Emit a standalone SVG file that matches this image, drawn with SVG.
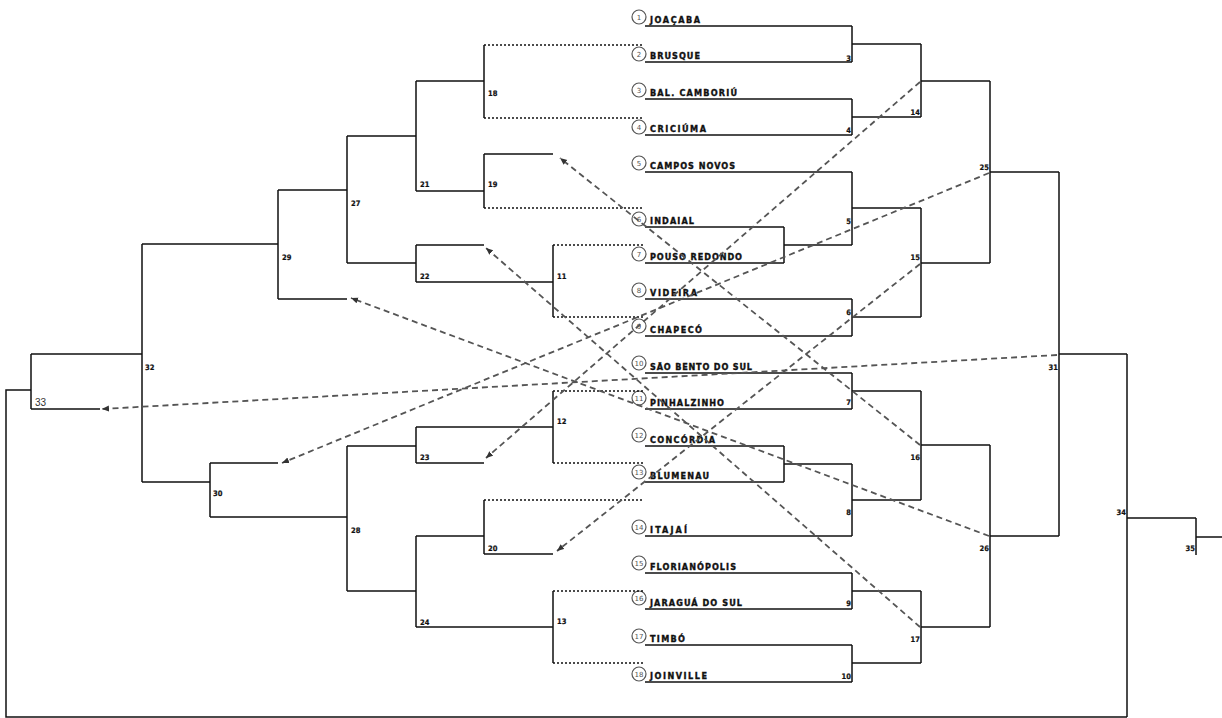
<svg xmlns="http://www.w3.org/2000/svg" width="1222" height="718" viewBox="0 0 1222 718">
<style>
.ln{stroke:#111;stroke-width:1.5;fill:none}
.dt{stroke:#111;stroke-width:1.4;fill:none;stroke-dasharray:2 2}
.ds{stroke:#555;stroke-width:1.8;fill:none;stroke-dasharray:6 4}
.cir{fill:#fff;stroke:#555;stroke-width:1.2}
.cn{font-family:"DejaVu Sans",sans-serif;font-size:7px;fill:#555;text-anchor:middle}
.tn{font-family:"DejaVu Sans Condensed","DejaVu Sans",sans-serif;font-weight:900;font-size:9px;fill:#111;stroke:#111;stroke-width:0.35}
.ml{font-family:"DejaVu Sans Condensed","DejaVu Sans",sans-serif;font-weight:bold;font-size:7.5px;fill:#111;stroke:#111;stroke-width:0.2}
.mr{font-family:"DejaVu Sans Condensed","DejaVu Sans",sans-serif;font-weight:bold;font-size:7.5px;fill:#111;stroke:#111;stroke-width:0.2;text-anchor:end}
.big{font-family:"Liberation Sans",Arial,sans-serif;font-size:10px;fill:#333}
</style>
<defs>
<marker id="ah" markerUnits="userSpaceOnUse" markerWidth="8" markerHeight="7" refX="7" refY="3" orient="auto"><path d="M0,0 L7,3 L0,6 z" fill="#333"/></marker>
</defs>
<rect width="1222" height="718" fill="#fff"/>

<!-- teams -->
<g id="t1"><circle class="cir" cx="639" cy="17" r="7"/><text class="cn" x="639" y="19.5">1</text><text class="tn" x="650" y="23" textLength="50">JOAÇABA</text><line class="ln" x1="645" y1="26" x2="852" y2="26"/></g>
<g id="t2"><circle class="cir" cx="639" cy="54" r="7"/><text class="cn" x="639" y="56.5">2</text><text class="tn" x="650" y="59" textLength="50">BRUSQUE</text><line class="ln" x1="645" y1="62" x2="852" y2="62"/></g>
<g id="t3"><circle class="cir" cx="639" cy="90" r="7"/><text class="cn" x="639" y="92.5">3</text><text class="tn" x="650" y="96" textLength="87">BAL. CAMBORIÚ</text><line class="ln" x1="645" y1="99" x2="852" y2="99"/></g>
<g id="t4"><circle class="cir" cx="639" cy="127" r="7"/><text class="cn" x="639" y="129.5">4</text><text class="tn" x="650" y="132" textLength="56">CRICIÚMA</text><line class="ln" x1="645" y1="135" x2="852" y2="135"/></g>
<g id="t5"><circle class="cir" cx="639" cy="163" r="7"/><text class="cn" x="639" y="165.5">5</text><text class="tn" x="650" y="169" textLength="85">CAMPOS NOVOS</text><line class="ln" x1="645" y1="172" x2="852" y2="172"/></g>
<g id="t6"><circle class="cir" cx="639" cy="219" r="7"/><text class="cn" x="639" y="221.5">6</text><text class="tn" x="650" y="224" textLength="44">INDAIAL</text><line class="ln" x1="645" y1="227" x2="784" y2="227"/></g>
<g id="t7"><circle class="cir" cx="639" cy="254" r="7"/><text class="cn" x="639" y="256.5">7</text><text class="tn" x="650" y="260" textLength="92">POUSO REDONDO</text><line class="ln" x1="645" y1="263" x2="784" y2="263"/></g>
<g id="t8"><circle class="cir" cx="639" cy="290" r="7"/><text class="cn" x="639" y="292.5">8</text><text class="tn" x="650" y="296" textLength="47">VIDEIRA</text><line class="ln" x1="645" y1="299" x2="852" y2="299"/></g>
<g id="t9"><circle class="cir" cx="639" cy="326" r="7"/><text class="cn" x="639" y="328.5">9</text><text class="tn" x="650" y="333" textLength="52">CHAPECÓ</text><line class="ln" x1="645" y1="336" x2="852" y2="336"/></g>
<g id="t10"><circle class="cir" cx="639" cy="363" r="7"/><text class="cn" x="639" y="365.5">10</text><text class="tn" x="650" y="370" textLength="102">SÃO BENTO DO SUL</text><line class="ln" x1="645" y1="373" x2="852" y2="373"/></g>
<g id="t11"><circle class="cir" cx="639" cy="398" r="7"/><text class="cn" x="639" y="400.5">11</text><text class="tn" x="650" y="406" textLength="74">PINHALZINHO</text><line class="ln" x1="645" y1="409" x2="852" y2="409"/></g>
<g id="t12"><circle class="cir" cx="639" cy="435" r="7"/><text class="cn" x="639" y="437.5">12</text><text class="tn" x="650" y="443" textLength="65">CONCÓRDIA</text><line class="ln" x1="645" y1="446" x2="784" y2="446"/></g>
<g id="t13"><circle class="cir" cx="639" cy="472" r="7"/><text class="cn" x="639" y="474.5">13</text><text class="tn" x="650" y="479" textLength="59">BLUMENAU</text><line class="ln" x1="645" y1="482" x2="784" y2="482"/></g>
<g id="t14"><circle class="cir" cx="639" cy="527" r="7"/><text class="cn" x="639" y="529.5">14</text><text class="tn" x="650" y="533" textLength="37">ITAJAÍ</text><line class="ln" x1="645" y1="536" x2="852" y2="536"/></g>
<g id="t15"><circle class="cir" cx="639" cy="563" r="7"/><text class="cn" x="639" y="565.5">15</text><text class="tn" x="650" y="570" textLength="86">FLORIANÓPOLIS</text><line class="ln" x1="645" y1="573" x2="852" y2="573"/></g>
<g id="t16"><circle class="cir" cx="639" cy="598" r="7"/><text class="cn" x="639" y="600.5">16</text><text class="tn" x="650" y="606" textLength="92">JARAGUÁ DO SUL</text><line class="ln" x1="645" y1="609" x2="852" y2="609"/></g>
<g id="t17"><circle class="cir" cx="639" cy="636" r="7"/><text class="cn" x="639" y="638.5">17</text><text class="tn" x="650" y="642" textLength="35">TIMBÓ</text><line class="ln" x1="645" y1="645" x2="852" y2="645"/></g>
<g id="t18"><circle class="cir" cx="639" cy="674" r="7"/><text class="cn" x="639" y="676.5">18</text><text class="tn" x="650" y="679" textLength="57">JOINVILLE</text><line class="ln" x1="645" y1="682" x2="852" y2="682"/></g>

<!-- right side matches -->
<g id="m3"><path class="ln" d="M852,26 V62 M852,44 H921"/><text class="mr" x="851" y="61">3</text></g>
<g id="m4"><path class="ln" d="M852,99 V135 M852,117 H921"/><text class="mr" x="851" y="133">4</text></g>
<g id="mIP"><path class="ln" d="M784,227 V263 M784,245 H852"/></g>
<g id="m5"><path class="ln" d="M852,172 V245 M852,208 H921"/><text class="mr" x="851" y="224">5</text></g>
<g id="m6"><path class="ln" d="M852,299 V336 M852,317 H921"/><text class="mr" x="851" y="315">6</text></g>
<g id="m7"><path class="ln" d="M852,373 V409 M852,391 H921"/><text class="mr" x="851" y="405">7</text></g>
<g id="mCB"><path class="ln" d="M784,446 V482 M784,464 H852"/></g>
<g id="m8"><path class="ln" d="M852,464 V536 M852,500 H921"/><text class="mr" x="851" y="515">8</text></g>
<g id="m9"><path class="ln" d="M852,573 V609 M852,591 H921"/><text class="mr" x="851" y="606">9</text></g>
<g id="m10"><path class="ln" d="M852,645 V682 M852,663 H921"/><text class="mr" x="851" y="679">10</text></g>
<g id="m14"><path class="ln" d="M921,44 V117 M921,81 H990"/><text class="mr" x="920" y="115">14</text></g>
<g id="m15"><path class="ln" d="M921,208 V317 M921,263 H990"/><text class="mr" x="920" y="260">15</text></g>
<g id="m16"><path class="ln" d="M921,391 V500 M921,445 H990"/><text class="mr" x="920" y="460">16</text></g>
<g id="m17"><path class="ln" d="M921,591 V663 M921,627 H990"/><text class="mr" x="920" y="642">17</text></g>
<g id="m25"><path class="ln" d="M990,81 V263 M990,172 H1059"/><text class="mr" x="989" y="170">25</text></g>
<g id="m26"><path class="ln" d="M990,445 V627 M990,536 H1059"/><text class="mr" x="989" y="551">26</text></g>
<g id="m31"><path class="ln" d="M1059,172 V536 M1059,354 H1127"/><text class="mr" x="1058" y="370">31</text></g>
<g id="m34"><path class="ln" d="M1127,354 V717 M1127,518 H1196"/><text class="mr" x="1126" y="515">34</text></g>
<g id="m35"><path class="ln" d="M1196,518 V555 M1196,537 H1222"/><text class="mr" x="1195" y="551">35</text></g>

<!-- left side matches -->
<g id="m18"><path class="ln" d="M484,45 V118 M416,81 H484"/><path class="dt" d="M484,45 H643 M484,118 H643"/><text class="ml" x="488" y="96">18</text></g>
<g id="m19"><path class="ln" d="M484,154 V208 M484,154 H553 M416,191 H484"/><path class="dt" d="M484,208 H643"/><text class="ml" x="488" y="187">19</text></g>
<g id="m21"><path class="ln" d="M416,81 V191 M347,136 H416"/><text class="ml" x="420" y="187">21</text></g>
<g id="m11"><path class="ln" d="M553,245 V317 M416,282 H553"/><path class="dt" d="M553,245 H643 M553,317 H643"/><text class="ml" x="557" y="279">11</text></g>
<g id="m22"><path class="ln" d="M416,245 V282 M416,245 H484 M347,263 H416"/><text class="ml" x="420" y="279">22</text></g>
<g id="m27"><path class="ln" d="M347,136 V263 M278,190 H347"/><text class="ml" x="351" y="206">27</text></g>
<g id="m29"><path class="ln" d="M278,190 V299 M278,299 H347 M142,244 H278"/><text class="ml" x="282" y="260">29</text></g>
<g id="m32"><path class="ln" d="M142,244 V482 M31,354 H142"/><text class="ml" x="145" y="370">32</text></g>
<g id="m33"><path class="ln" d="M31,354 V409 M31,409 H100"/><text class="big" x="35" y="406">33</text></g>
<g id="m30"><path class="ln" d="M210,463 V517 M210,463 H278 M210,517 H347 M142,482 H210"/><text class="ml" x="213" y="496">30</text></g>
<g id="m12"><path class="ln" d="M553,391 V463 M416,427 H553"/><path class="dt" d="M553,391 H643 M553,463 H643"/><text class="ml" x="557" y="424">12</text></g>
<g id="m23"><path class="ln" d="M416,427 V463 M416,463 H484 M347,446 H416"/><text class="ml" x="420" y="460">23</text></g>
<g id="m28"><path class="ln" d="M347,446 V591"/><text class="ml" x="351" y="533">28</text></g>
<g id="m20"><path class="ln" d="M484,500 V554 M484,554 H553 M416,536 H484"/><path class="dt" d="M484,500 H643"/><text class="ml" x="488" y="551">20</text></g>
<g id="m13"><path class="ln" d="M553,591 V663 M416,627 H553"/><path class="dt" d="M553,591 H643 M553,663 H643"/><text class="ml" x="557" y="624">13</text></g>
<g id="m24"><path class="ln" d="M416,536 V627 M347,591 H416"/><text class="ml" x="420" y="625">24</text></g>

<!-- connectors -->
<g id="connectors">
<path class="ln" d="M1127,717 H6 V390 H31"/>
<path class="ds" marker-end="url(#ah)" d="M1057,355 L102,409"/>
<path class="ds" marker-end="url(#ah)" d="M989,173 L282,463"/>
<path class="ds" marker-end="url(#ah)" d="M920,82 L486,458"/>
<path class="ds" marker-end="url(#ah)" d="M920,264 L557,551"/>
<path class="ds" marker-end="url(#ah)" d="M920,445 L560,158"/>
<path class="ds" marker-end="url(#ah)" d="M989,536 L351,298"/>
<path class="ds" marker-end="url(#ah)" d="M920,627 L486,248"/>
</g>
</svg>
